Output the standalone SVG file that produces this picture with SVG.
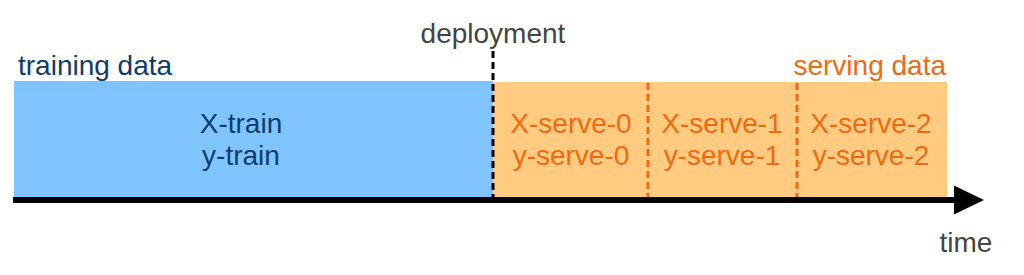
<svg xmlns="http://www.w3.org/2000/svg" width="1024" height="275" viewBox="0 0 1024 275">
<style>
text{font-family:"Liberation Sans",Arial,sans-serif;font-size:28px}
.blue{fill:#0d3c6e}
.org{fill:#f06a10}
.gray{fill:#444444}
.od{stroke:#f06a10;stroke-width:3;stroke-dasharray:7 4;fill:none}
</style>
<defs>
<marker id="ah" markerUnits="userSpaceOnUse" markerWidth="30" markerHeight="30" refX="0" refY="13" orient="auto" viewBox="0 0 27 26">
<path d="M0,0 L27,13 L0,26 Z" fill="#000"/>
</marker>
</defs>
<g id="training">
<rect x="14" y="81" width="479" height="116" fill="#80c4fd"/>
<text class="blue" x="18" y="75">training data</text>
<text class="blue" x="241" y="133" text-anchor="middle">X-train</text>
<text class="blue" x="241" y="165" text-anchor="middle">y-train</text>
</g>
<g id="serving">
<rect x="493" y="82" width="454" height="115" fill="#fecb80"/>
<text class="org" x="946" y="75" text-anchor="end">serving data</text>
<text class="org" x="571" y="133" text-anchor="middle">X-serve-0</text>
<text class="org" x="571" y="165" text-anchor="middle">y-serve-0</text>
<text class="org" x="722" y="133" text-anchor="middle">X-serve-1</text>
<text class="org" x="722" y="165" text-anchor="middle">y-serve-1</text>
<text class="org" x="871" y="133" text-anchor="middle">X-serve-2</text>
<text class="org" x="871" y="165" text-anchor="middle">y-serve-2</text>
</g>
<g id="deployment">
<text class="gray" x="493" y="43" text-anchor="middle">deployment</text>
</g>
<g id="time">
<text class="gray" x="966" y="252" text-anchor="middle">time</text>
</g>
<g id="connectors">
<line x1="648" y1="83" x2="648" y2="197" class="od"/>
<line x1="797" y1="83" x2="797" y2="197" class="od"/>
<line x1="493" y1="51" x2="493" y2="197" stroke="#000" stroke-width="3" stroke-dasharray="7 4"/>
<line x1="13" y1="200" x2="954" y2="200" stroke="#000" stroke-width="6" marker-end="url(#ah)"/>
</g>
</svg>
